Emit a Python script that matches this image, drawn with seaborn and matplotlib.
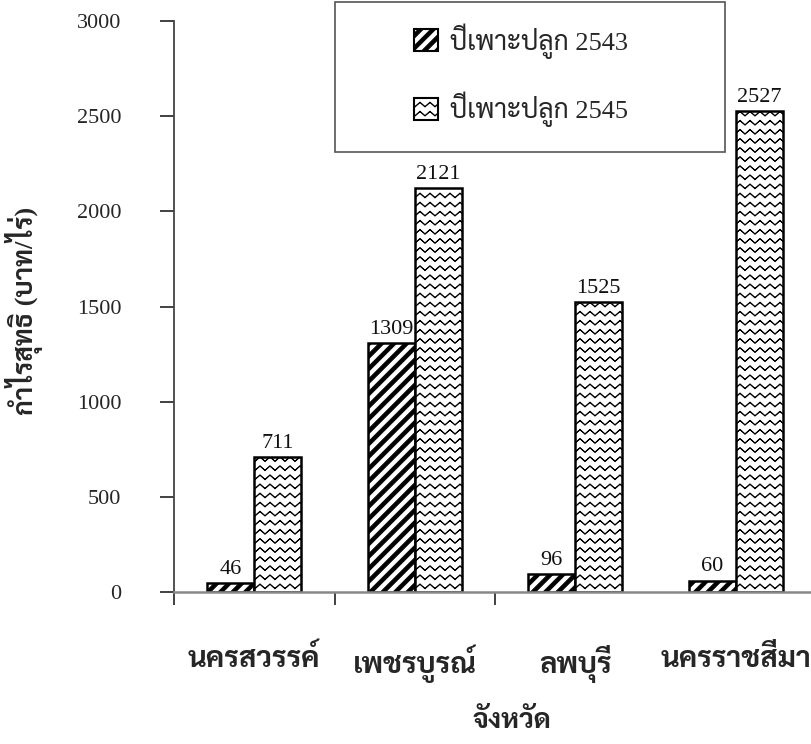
import warnings
warnings.filterwarnings("ignore")
import numpy as np
import pandas as pd
import matplotlib
matplotlib.use("Agg")
import matplotlib.pyplot as plt
import matplotlib.hatch as mhatch
from matplotlib.path import Path
from matplotlib.patches import Patch, Rectangle
from matplotlib import font_manager
import seaborn as sns

# ---------------- data ----------------
provinces = ['นครสวรรค์', 'เพชรบูรณ์', 'ลพบุรี', 'นครราชสีมา']
years = ['ปีเพาะปลูก 2543', 'ปีเพาะปลูก 2545']
profit_2543 = [46, 1309, 96, 60]
profit_2545 = [711, 2121, 1525, 2527]
y_ticks = [0, 500, 1000, 1500, 2000, 2500, 3000]
x_label = 'จังหวัด'
y_label = 'กำไรสุทธิ (บาท/ไร่)'

df = pd.DataFrame({
    'province': provinces * 2,
    'year': [years[0]] * 4 + [years[1]] * 4,
    'profit': profit_2543 + profit_2545,
})


# ---------------- custom hatches ----------------
class ZigZagHatch(mhatch.HatchPatternBase):
    """'~' : thin zig-zag (wavy) lines."""
    def __init__(self, hatch, density):
        n = hatch.count('~')
        self.rows = 11 * n
        self.waves = 10
        self.pts = 2 * self.waves + 1
        self.per = 2 * self.pts + 1
        self.num_vertices = self.rows * self.per

    def set_vertices_and_codes(self, vertices, codes):
        amp = 0.022
        t = 0.003
        xs = np.linspace(0, 1, self.pts)
        sign = np.where(np.arange(self.pts) % 2 == 0, 1.0, -1.0)
        for r in range(self.rows):
            y0 = (r + 0.5) / self.rows
            b = r * self.per
            ys = y0 + amp * sign
            vertices[b:b + self.pts, 0] = xs
            vertices[b:b + self.pts, 1] = ys + t
            vertices[b + self.pts:b + 2 * self.pts, 0] = xs[::-1]
            vertices[b + self.pts:b + 2 * self.pts, 1] = (ys - t)[::-1]
            vertices[b + 2 * self.pts] = vertices[b]
            codes[b:b + 2 * self.pts] = Path.LINETO
            codes[b] = Path.MOVETO
            codes[b + 2 * self.pts] = Path.CLOSEPOLY


class StripeHatch(mhatch.HatchPatternBase):
    """'#' : thick diagonal stripes."""
    def __init__(self, hatch, density):
        n = hatch.count('#')
        self.k = 8 * n
        self.num_vertices = (2 * self.k + 1) * 5 if n else 0

    def set_vertices_and_codes(self, vertices, codes):
        h = 0.026
        for j, i in enumerate(range(-self.k, self.k + 1)):
            c = i / self.k
            b = j * 5
            vertices[b + 0] = (c - h - 0.1, -0.1)
            vertices[b + 1] = (c - h + 1.1, 1.1)
            vertices[b + 2] = (c + h + 1.1, 1.1)
            vertices[b + 3] = (c + h - 0.1, -0.1)
            vertices[b + 4] = (c - h - 0.1, -0.1)
            codes[b] = Path.MOVETO
            codes[b + 1:b + 4] = Path.LINETO
            codes[b + 4] = Path.CLOSEPOLY


mhatch._hatch_types.extend([ZigZagHatch, StripeHatch])

# ---------------- style ----------------
sns.set_theme(style='white')
avail = {f.name for f in font_manager.fontManager.ttflist}
thai = next((f for f in ['Sarabun', 'Taviraj', 'Trirong'] if f in avail), 'Trirong')
fams = ['Liberation Serif', thai]
plt.rcParams['font.family'] = fams
plt.rcParams['hatch.linewidth'] = 0.6

fig = plt.figure(figsize=(8.12, 7.44), dpi=100)
ax = fig.add_axes([174 / 812, 152 / 744, 638 / 812, 571 / 744])

sns.barplot(data=df, x='province', y='profit', hue='year',
            hue_order=years, order=provinces,
            palette=['white', 'white'], edgecolor='black', linewidth=1.8,
            width=0.585, ax=ax, legend=False, saturation=1)

hatches = ['#', '~']
for cont, h in zip(ax.containers, hatches):
    for p in cont:
        p.set_hatch(h)
        p.set_edgecolor('black')
    ax.bar_label(cont, fmt='%d', padding=3, fontsize=16, color='#111111')

ax.set_ylim(0, 3000)
ax.set_xlim(-0.5, 3.475)
ax.set_yticks(y_ticks)
ax.set_yticklabels([str(v) for v in y_ticks], fontsize=16)
ax.tick_params(axis='y', direction='out', length=10, width=1.3,
               color='#333333', pad=28, left=True)

ax.set_xticks(range(len(provinces)))
ax.set_xticklabels(provinces, fontsize=21, fontweight='bold')
ax.tick_params(axis='x', which='major', length=0, pad=38)
ax.set_xticks([-0.5, 0.5, 1.5], minor=True)
ax.tick_params(axis='x', which='minor', direction='out', length=9,
               width=1.3, color='#333333', bottom=True)

ax.set_xlabel(x_label, fontsize=20, fontweight='bold')
ax.xaxis.set_label_coords(0.53, -0.205)
ax.set_ylabel(y_label, fontsize=19, fontweight='bold')
ax.yaxis.set_label_coords(-0.205, 0.492)

for s in ['top', 'right']:
    ax.spines[s].set_visible(False)
ax.spines['left'].set_color('#444444')
ax.spines['left'].set_linewidth(1.3)
ax.spines['bottom'].set_color('#888888')
ax.spines['bottom'].set_linewidth(1.8)

# legend
handles = [Patch(facecolor='white', edgecolor='black', hatch=h, linewidth=1.5)
           for h in hatches]
leg = fig.legend(handles, years, loc='center left',
                 bbox_to_anchor=(414 / 812, 1 - 75 / 744),
                 frameon=False, borderpad=0, borderaxespad=0,
                 handlelength=0.9, handleheight=0.9,
                 handletextpad=0.45, labelspacing=1.25,
                 prop={'family': fams, 'size': 19})
fig.add_artist(Rectangle((335 / 812, 1 - 152 / 744), 390 / 812, 150 / 744,
                         transform=fig.transFigure, fill=False,
                         edgecolor='#555555', linewidth=1.2, zorder=5))

fig.savefig('out.png', dpi=100)
